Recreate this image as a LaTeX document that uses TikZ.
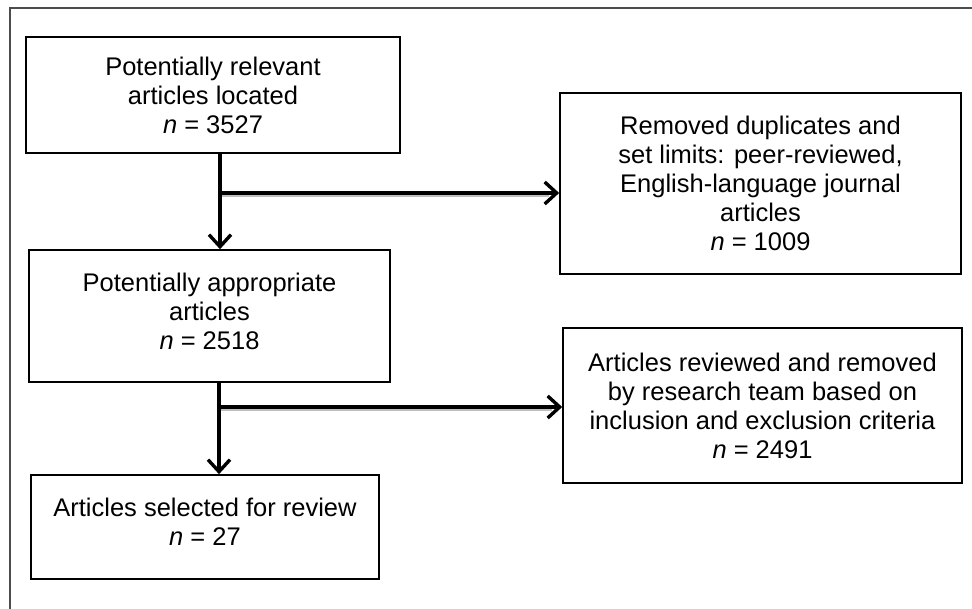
\documentclass[tikz,border=0pt]{standalone}
\usepackage{fontspec}
\setmainfont{Liberation Sans}
\usetikzlibrary{arrows.meta}
\begin{document}
\begin{tikzpicture}[x=1pt,y=-1pt,
  box/.style={draw=black,line width=1.6pt,rectangle,align=center,inner sep=0pt,
    font=\fontsize{25.5}{29}\selectfont},
  conn/.style={line width=3.6pt,black},
  arr/.style={conn,-{Straight Barb[length=12pt,width=22pt,line width=3.4pt]}},
  shadowln/.style={line width=3pt,black!25}]
\useasboundingbox (0,0) rectangle (972,609);
\fill[white] (0,0) rectangle (972,609);
% outer frame (only top and left edges visible)
\draw[line width=1.6pt,black!70] (10,609) -- (10,8) -- (972,8);
% boxes
\node[box,minimum width=374pt,minimum height=116pt] (b1) at (213,95)
  {Potentially relevant\\articles located\\\textit{n} = 3527};
\node[box,minimum width=401pt,minimum height=181pt] (b2) at (760.5,183.5)
  {Removed duplicates and\\set limits: peer-reviewed,\\English-language journal\\articles\\\textit{n} = 1009};
\node[box,minimum width=361pt,minimum height=132pt] (b3) at (209.5,316)
  {Potentially appropriate\\articles\\\textit{n} = 2518\\[-19pt]};
\node[box,minimum width=399pt,minimum height=155pt] (b5) at (762.5,405.5)
  {Articles reviewed and removed\\by research team based on\\inclusion and exclusion criteria\\\textit{n} = 2491};
\node[box,minimum width=348pt,minimum height=104pt] (b4) at (205,527)
  {Articles selected for review\\\textit{n} = 27\\[-19pt]};
% junctions
\coordinate (j1) at (220,193);
\coordinate (j2) at (219,407);
% shadows of horizontal connectors
\draw[shadowln] ([yshift=-2.5pt]j1) -- ([yshift=-2.5pt,xshift=-10pt]j1 -| b2.west);
\draw[shadowln] ([yshift=-2.5pt]j2) -- ([yshift=-2.5pt,xshift=-10pt]j2 -| b5.west);
% connectors
\draw[arr] (j1 |- b1.south) -- (j1 |- b3.north);
\draw[arr] ([xshift=-1.8pt]j1) -- (j1 -| b2.west);
\draw[arr] (j2 |- b3.south) -- (j2 |- b4.north);
\draw[arr] ([xshift=-1.8pt]j2) -- (j2 -| b5.west);
\end{tikzpicture}
\end{document}
